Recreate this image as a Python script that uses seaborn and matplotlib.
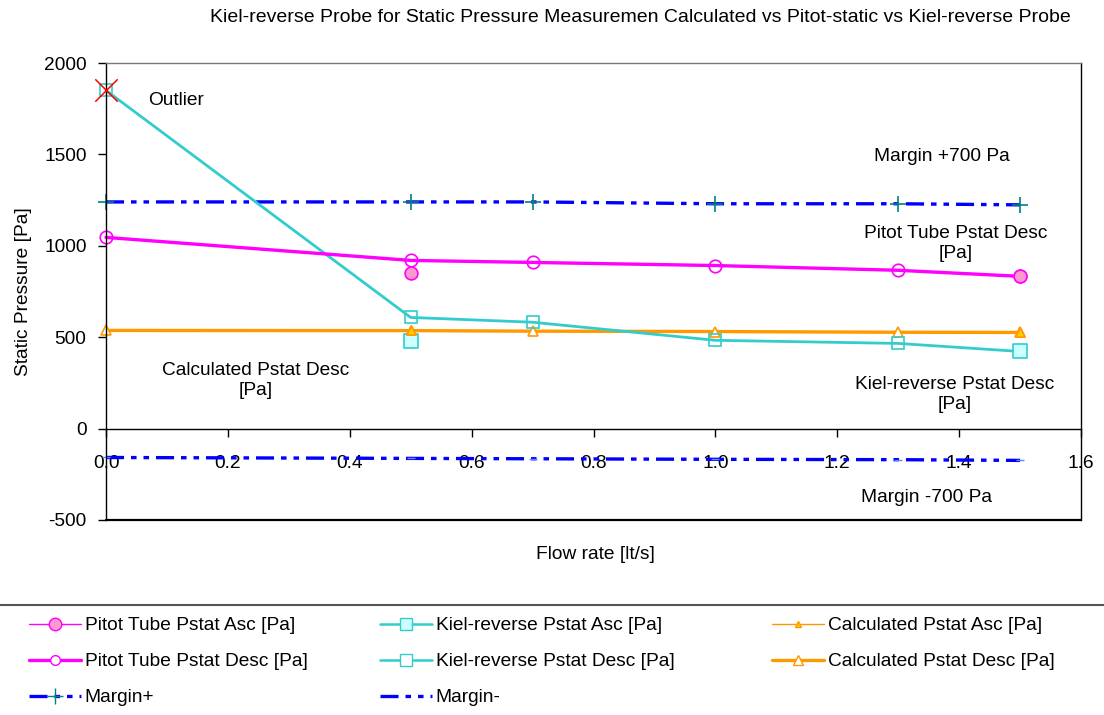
import matplotlib
matplotlib.use("Agg")
import matplotlib.pyplot as plt
from matplotlib.lines import Line2D
import seaborn as sns
import pandas as pd
import numpy as np

# flow rate points [lt/s]
flow = [0.0, 0.5, 0.7, 1.0, 1.3, 1.5]
flow_asc = [0.5, 1.5]

pitot_desc = [1046, 920, 909, 892, 866, 833]
kiel_desc = [1850, 608, 582, 483, 466, 422]
calc_desc = [537, 536, 533, 531, 527, 526]
margin_plus = [1240, 1240, 1240, 1230, 1230, 1224]
margin_minus = [-158, -163, -165, -168, -170, -174]

pitot_asc = [852, 835]
kiel_asc = [480, 422]
calc_asc = [540, 527]

outlier_x = [0.0]
outlier_y = [1850]

xticks = [0.0, 0.2, 0.4, 0.6, 0.8, 1.0, 1.2, 1.4, 1.6]
yticks = [-500, 0, 500, 1000, 1500, 2000]

sns.set_theme(style="white")
plt.rcParams['font.family'] = ['Liberation Sans', 'DejaVu Sans']
plt.rcParams['lines.scale_dashes'] = False
plt.rcParams['axes.unicode_minus'] = False
plt.rcParams['text.color'] = 'black'

FS = 13.8
fig = plt.figure(figsize=(11.04, 7.15), dpi=100)
ax = fig.add_axes([106/1104, 1-520/715, 975/1104, 457/715])

dash = (13, 5, 4, 5, 4, 5)

sns.lineplot(x=flow, y=margin_plus, ax=ax, color="#0000ff", lw=2.4, dashes=False,
             marker='+', markersize=11, markeredgecolor="#008080", markeredgewidth=1.2, clip_on=False)
ax.lines[-1].set_dashes(dash)
sns.lineplot(x=flow, y=margin_minus, ax=ax, color="#0000ff", lw=2.4, dashes=False,
             marker='_', markersize=6, markeredgecolor="#6688ff", markeredgewidth=1, clip_on=False)
ax.lines[-1].set_dashes(dash)

sns.lineplot(x=flow, y=calc_desc, ax=ax, color="#ff9900", lw=2.4, clip_on=False,
             marker='^', markersize=7, markerfacecolor='white', markeredgecolor="#ff9900", markeredgewidth=1.2)
sns.lineplot(x=flow, y=kiel_desc, ax=ax, color="#33cccc", lw=2.0, clip_on=False,
             marker='s', markersize=9, markerfacecolor='none', markeredgecolor="#33cccc", markeredgewidth=1.2)
sns.lineplot(x=flow, y=pitot_desc, ax=ax, color="#ff00ff", lw=2.4, clip_on=False,
             marker='o', markersize=9, markerfacecolor='none', markeredgecolor="#ff00ff", markeredgewidth=1.2)

sns.scatterplot(x=flow_asc, y=pitot_asc, ax=ax, marker='o', s=85, color="#ff99cc",
                edgecolor="#ff00ff", linewidth=1.2, zorder=5)
sns.scatterplot(x=flow_asc, y=kiel_asc, ax=ax, marker='s', s=95, color="#ccffff",
                edgecolor="#33cccc", linewidth=1.2, zorder=5)
sns.scatterplot(x=flow_asc, y=calc_asc, ax=ax, marker='^', s=45, color="#ffcc00",
                edgecolor="#ff9900", linewidth=1.2, zorder=5)
sns.scatterplot(x=outlier_x, y=outlier_y, ax=ax, marker='x', s=260, color="#ff0000",
                linewidth=1.1, zorder=6, clip_on=False)

ax.set_xlim(0, 1.6)
ax.set_ylim(-500, 2000)
ax.set_xticks(xticks)
ax.set_xticklabels([f"{t:.1f}" for t in xticks])
ax.set_yticks(yticks)
ax.spines['bottom'].set_position(('data', 0))
for s in ax.spines.values():
    s.set_color('black')
    s.set_linewidth(1.0)
ax.spines['top'].set_color('#777777')
ax.axhline(-500, color='black', lw=1.6, clip_on=False)
ax.tick_params(axis='both', which='both', direction='out', length=6, width=1,
               labelsize=FS, colors='black', bottom=True, left=True)
ax.tick_params(axis='x', pad=13)
ax.tick_params(axis='y', pad=8)
ax.grid(False)

ax.set_xlabel("Flow rate [lt/s]", fontsize=FS, color='black')
ax.set_ylabel("Static Pressure [Pa]", fontsize=FS, color='black')
ax.xaxis.set_label_coords(0.502, -0.057)
ax.yaxis.set_label_coords(-0.076, 0.5)

ax.text(0.069, 1797, "Outlier", fontsize=FS, ha='left', va='center')
ax.text(1.372, 1490, "Margin +700 Pa", fontsize=FS, ha='center', va='center')
ax.text(1.395, 1014, "Pitot Tube Pstat Desc\n[Pa]", fontsize=FS, ha='center', va='center', multialignment='center')
ax.text(1.392, 186, "Kiel-reverse Pstat Desc\n[Pa]", fontsize=FS, ha='center', va='center', multialignment='center')
ax.text(0.246, 263, "Calculated Pstat Desc\n[Pa]", fontsize=FS, ha='center', va='center', multialignment='center')
ax.text(1.346, -378, "Margin -700 Pa", fontsize=FS, ha='center', va='center')

fig.text(640/1104, 1-18/715, "Kiel-reverse Probe for Static Pressure Measuremen Calculated vs Pitot-static vs Kiel-reverse Probe",
         fontsize=14, ha='center', va='center')

# legend separator line
fig.add_artist(Line2D([0, 1], [1-605/715, 1-605/715], transform=fig.transFigure, color='#555555', lw=1.5))

h_pa = Line2D([], [], color="#ff00ff", lw=1, marker='o', markersize=9, markerfacecolor="#ff99cc", markeredgecolor="#ff00ff")
h_pd = Line2D([], [], color="#ff00ff", lw=2.4, marker='o', markersize=7, markerfacecolor='white', markeredgecolor="#ff00ff")
h_mp = Line2D([], [], color="#0000ff", lw=2.4, dashes=dash, marker='+', markersize=11, markeredgecolor="#008080")
h_ka = Line2D([], [], color="#33cccc", lw=1.8, marker='s', markersize=9, markerfacecolor="#ccffff", markeredgecolor="#33cccc")
h_kd = Line2D([], [], color="#33cccc", lw=1.8, marker='s', markersize=8, markerfacecolor='white', markeredgecolor="#33cccc")
h_mm = Line2D([], [], color="#0000ff", lw=2.4, dashes=dash)
h_ca = Line2D([], [], color="#ff9900", lw=1, marker='^', markersize=5, markerfacecolor="#ffcc00", markeredgecolor="#ff9900")
h_cd = Line2D([], [], color="#ff9900", lw=2.4, marker='^', markersize=7, markerfacecolor='white', markeredgecolor="#ff9900")

columns = [
    ([h_pa, h_pd, h_mp], ["Pitot Tube Pstat Asc [Pa]", "Pitot Tube Pstat Desc [Pa]", "Margin+"], 29),
    ([h_ka, h_kd, h_mm], ["Kiel-reverse Pstat Asc [Pa]", "Kiel-reverse Pstat Desc [Pa]", "Margin-"], 380),
    ([h_ca, h_cd], ["Calculated Pstat Asc [Pa]", "Calculated Pstat Desc [Pa]"], 772),
]
for hs, ls, xpx in columns:
    fig.legend(hs, ls, loc='upper left', bbox_to_anchor=(xpx/1104, 1-617/715),
               ncol=1, frameon=False, fontsize=FS, handlelength=2.7, handletextpad=0.2,
               labelspacing=0.97, borderpad=0, borderaxespad=0)

fig.savefig("out.png", dpi=100)
